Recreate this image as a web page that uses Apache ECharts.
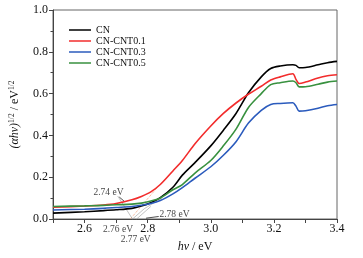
<!DOCTYPE html>
<html>
<head>
<meta charset="utf-8">
<script src="https://cdn.jsdelivr.net/npm/echarts@6/dist/echarts.min.js"></script>
<style>
  html, body { margin: 0; padding: 0; background: #fff; }
  #dom { width: 363px; height: 258px; }
</style>
</head>
<body>
<div id="dom"></div>
<script>
// photon energy (eV)
const energy = [2.50, 2.60, 2.66, 2.70, 2.75, 2.78, 2.81, 2.84, 2.88, 2.91, 2.95, 3.00, 3.04,
  3.08, 3.12, 3.16, 3.19, 3.22, 3.26, 3.27, 3.28, 3.30, 3.34, 3.37, 3.40]
const cn = [0.028, 0.035, 0.040, 0.044, 0.051, 0.062, 0.078, 0.102, 0.152, 0.210, 0.270, 0.350, 0.425,
  0.505, 0.605, 0.680, 0.720, 0.732, 0.738, 0.735, 0.724, 0.725, 0.738, 0.748, 0.754]
const cnt01 = [0.056, 0.062, 0.067, 0.074, 0.092, 0.108, 0.130, 0.165, 0.230, 0.280, 0.360, 0.445, 0.505,
  0.555, 0.598, 0.635, 0.665, 0.680, 0.695, 0.668, 0.648, 0.655, 0.675, 0.685, 0.690]
const cnt03 = [0.043, 0.047, 0.051, 0.055, 0.060, 0.066, 0.074, 0.088, 0.120, 0.150, 0.195, 0.250, 0.305,
  0.370, 0.460, 0.520, 0.548, 0.553, 0.556, 0.540, 0.516, 0.518, 0.530, 0.542, 0.548]
const cnt05 = [0.060, 0.063, 0.065, 0.068, 0.071, 0.076, 0.086, 0.100, 0.140, 0.165, 0.220, 0.280, 0.350,
  0.430, 0.535, 0.600, 0.643, 0.652, 0.660, 0.652, 0.632, 0.633, 0.645, 0.655, 0.660]
const seriesNames = ['CN', 'CN-CNT0.1', 'CN-CNT0.3', 'CN-CNT0.5']
const colors = ['#000000', '#f22c2c', '#2b5bbd', '#38913f']
const xTicks = ['2.6', '2.8', '3.0', '3.2', '3.4']
// band gap annotations: [x, y, text]
const gapLabels = [[2.676, 0.128, '2.74 eV'], [2.706, -0.05, '2.76 eV'], [2.762, -0.097, '2.77 eV'], [2.885, 0.02, '2.78 eV']]

const pair = (ys) => energy.map((x, i) => [x, ys[i]])
const font = 'Liberation Serif'

const option = {
  backgroundColor: '#ffffff',
  animation: false,
  grid: {
    left: 50,
    right: 26,
    top: 10,
    bottom: 38,
    show: true,
    borderColor: '#666',
    borderWidth: 1
  },
  legend: {
    orient: 'vertical',
    left: 64,
    top: 20,
    itemWidth: 22,
    itemHeight: 8,
    itemGap: 1,
    icon: 'path://M0,3.5L22,3.5L22,5L0,5Z',
    data: seriesNames,
    textStyle: { fontFamily: font, fontSize: 10, color: '#111' }
  },
  xAxis: {
    type: 'value',
    min: 2.5,
    max: 3.4,
    interval: 0.1,
    name: '{i|hν} / eV',
    nameLocation: 'middle',
    nameGap: 22,
    nameTextStyle: {
      fontFamily: font, fontSize: 12, color: '#111',
      rich: { i: { fontFamily: font, fontSize: 12, fontStyle: 'italic', color: '#111' } }
    },
    axisLine: { lineStyle: { color: '#444' } },
    axisTick: { length: 4, lineStyle: { color: '#444' } },
    axisLabel: {
      fontFamily: font,
      fontSize: 12,
      color: '#111',
      margin: 4,
      formatter: (v) => xTicks.includes(v.toFixed(1)) ? v.toFixed(1) : ''
    },
    splitLine: { show: false }
  },
  yAxis: {
    type: 'value',
    min: 0,
    max: 1,
    interval: 0.2,
    name: '{i|(αhν)}{s|1/2}{n| / eV}{s|1/2}',
    nameLocation: 'middle',
    nameGap: 31,
    nameTextStyle: {
      fontFamily: font, fontSize: 12, color: '#111',
      rich: {
        i: { fontFamily: font, fontSize: 12, fontStyle: 'italic', color: '#111' },
        n: { fontFamily: font, fontSize: 12, color: '#111' },
        s: { fontFamily: font, fontSize: 7.5, color: '#111', verticalAlign: 'top', padding: [0, 0, 6, 0] }
      }
    },
    axisLine: { show: true, lineStyle: { color: '#444' } },
    axisTick: { show: true, length: 4, lineStyle: { color: '#444' } },
    minorTick: { show: true, splitNumber: 2, length: 2.5, lineStyle: { color: '#444' } },
    axisLabel: {
      fontFamily: font,
      fontSize: 12,
      color: '#111',
      margin: 5,
      formatter: (v) => v.toFixed(1)
    },
    splitLine: { show: false }
  },
  series: [
    // tangent / leader lines near the absorption edge
    {
      type: 'line', silent: true, symbol: 'none', clip: false,
      lineStyle: { color: '#f5a27a', width: 0.7, type: 'dashed' },
      data: [[2.745, 0], [2.83, 0.15]]
    },
    {
      type: 'line', silent: true, symbol: 'none', clip: false,
      lineStyle: { color: '#999', width: 0.6 },
      data: [[2.705, 0.11], [2.752, 0], [2.79, 0.05], [2.845, 0.1]]
    },
    {
      type: 'line', silent: true, symbol: 'none', clip: false,
      lineStyle: { color: '#999', width: 0.6 },
      data: [[2.765, 0], [2.81, 0.06]]
    },
    {
      type: 'line', silent: true, symbol: 'none', clip: false,
      lineStyle: { color: '#222', width: 0.8 },
      data: [[2.71, 0.105], [2.728, 0.082]]
    },
    {
      type: 'line', silent: true, symbol: 'none', clip: false,
      lineStyle: { color: '#222', width: 0.8 },
      data: [[2.835, 0.012], [2.795, 0.004]]
    },
    {
      type: 'scatter', silent: true, symbolSize: 0, clip: false,
      label: {
        show: true, position: 'inside', fontFamily: font, fontSize: 9.5, color: '#111',
        formatter: (p) => p.data[2]
      },
      data: gapLabels
    },
    ...seriesNames.map((name, i) => ({
      name,
      type: 'line',
      symbol: 'none',
      smooth: 0.3,
      lineStyle: { width: 1.6, color: colors[i] },
      itemStyle: { color: colors[i] },
      data: pair([cn, cnt01, cnt03, cnt05][i])
    }))
  ]
}

const chart = echarts.init(document.getElementById('dom'))
chart.setOption(option, true)
</script>
</body>
</html>
